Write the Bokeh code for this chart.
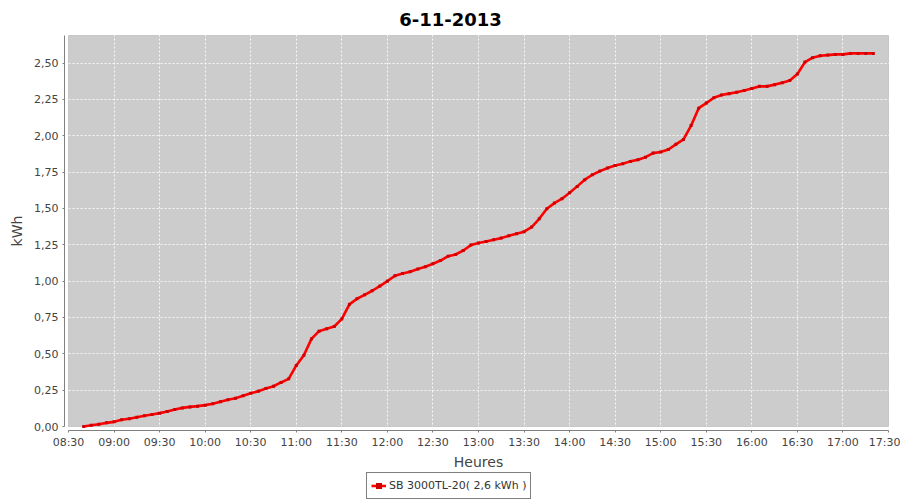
import datetime as dt
from bokeh.plotting import figure
from bokeh.models import (FixedTicker, DatetimeTickFormatter, CustomJSTickFormatter,
                          BoxAnnotation, Legend, LegendItem, Range1d, Label)
from bokeh.embed import file_html
from bokeh.resources import INLINE

# ---------------- data ----------------
chart_title = "6-11-2013"
series_name = "SB 3000TL-20( 2,6 kWh )"
x_label = "Heures"
y_label = "kWh"
chart_day = "2013-11-06"
start_time = "08:40"
step_minutes = 5
kwh = [
    0.000, 0.008, 0.016, 0.025,                      # 08:40-08:55
    0.032, 0.046, 0.053, 0.064, 0.074, 0.083,        # 09:00-09:25
    0.092, 0.103, 0.117, 0.128, 0.135, 0.140,        # 09:30-09:55
    0.147, 0.156, 0.170, 0.184, 0.195, 0.211,        # 10:00-10:25
    0.229, 0.243, 0.262, 0.277, 0.303, 0.328,        # 10:30-10:55
    0.420, 0.490, 0.603, 0.656, 0.672, 0.688,        # 11:00-11:25
    0.740, 0.840, 0.879, 0.906, 0.934, 0.966,        # 11:30-11:55
    1.000, 1.037, 1.053, 1.065, 1.083, 1.099,        # 12:00-12:25
    1.120, 1.142, 1.172, 1.184, 1.211, 1.248,        # 12:30-12:55
    1.263, 1.273, 1.285, 1.296, 1.312, 1.326,        # 13:00-13:25
    1.340, 1.372, 1.429, 1.498, 1.537, 1.567,        # 13:30-13:55
    1.608, 1.652, 1.698, 1.732, 1.757, 1.778,        # 14:00-14:25
    1.796, 1.808, 1.824, 1.835, 1.853, 1.881,        # 14:30-14:55
    1.888, 1.906, 1.941, 1.975, 2.070, 2.190,        # 15:00-15:25
    2.225, 2.262, 2.280, 2.290, 2.299, 2.312,        # 15:30-15:55
    2.326, 2.340, 2.340, 2.352, 2.365, 2.381,        # 16:00-16:25
    2.425, 2.507, 2.537, 2.551, 2.555, 2.560,        # 16:30-16:55
    2.560, 2.567, 2.567, 2.567, 2.567,               # 17:00-17:20
]
x_tick_labels = ["08:30", "09:00", "09:30", "10:00", "10:30", "11:00", "11:30",
                 "12:00", "12:30", "13:00", "13:30", "14:00", "14:30", "15:00",
                 "15:30", "16:00", "16:30", "17:00", "17:30"]
y_ticks = [0.0, 0.25, 0.5, 0.75, 1.0, 1.25, 1.5, 1.75, 2.0, 2.25, 2.5]
y_max = 2.69

# ---------------- helpers ----------------
day = dt.datetime.strptime(chart_day, "%Y-%m-%d")
EPOCH = dt.datetime(1970, 1, 1)


def at(hhmm):
    h, m = map(int, hhmm.split(":"))
    return day + dt.timedelta(hours=h, minutes=m)


def ms(d):
    return (d - EPOCH).total_seconds() * 1000.0


t0 = at(start_time)
times = [t0 + dt.timedelta(minutes=step_minutes * i) for i in range(len(kwh))]
x_ticks_ms = [ms(at(s)) for s in x_tick_labels]
x_lo, x_hi = x_ticks_ms[0], x_ticks_ms[-1]

# ---------------- layout (pixels) ----------------
W, H = 900, 500
AREA_L, AREA_R, AREA_T, AREA_B = 68, 888, 35, 426   # grey plotting area
OFF = 4                                              # axis offset from grey area
px_per_ms = (AREA_R - AREA_L) / (x_hi - x_lo)
px_per_unit = (AREA_B - AREA_T) / y_max
x_start = x_lo - AREA_L / px_per_ms
x_end = x_hi + (W - AREA_R) / px_per_ms
y_end = AREA_B / px_per_unit
y_start = -(H - AREA_B) / px_per_unit

p = figure(width=W, height=H, x_axis_type="datetime",
           output_backend="svg", toolbar_location=None,
           x_range=Range1d(x_start, x_end), y_range=Range1d(y_start, y_end),
           min_border_left=0, min_border_right=0,
           min_border_top=0, min_border_bottom=0)
p.background_fill_color = "white"
p.border_fill_color = "white"
p.outline_line_color = None

plot_area = BoxAnnotation(left=x_lo, right=x_hi, bottom=0, top=y_max,
                          fill_color="#cccccc", fill_alpha=1.0,
                          line_color="#808080", line_width=1, level="image")
p.add_layout(plot_area)

for ax in p.axis:
    ax.axis_line_color = "#808080"
    ax.major_tick_line_color = "#808080"
    ax.minor_tick_line_color = None
    ax.major_tick_out = 2
    ax.major_tick_in = 0
    ax.major_label_text_font = "DejaVu Sans"
    ax.major_label_text_font_size = "11px"
    ax.major_label_text_color = "#444444"
    ax.axis_label_text_font = "DejaVu Sans"
    ax.axis_label_text_font_size = "14px"
    ax.axis_label_text_font_style = "normal"
    ax.axis_label_text_color = "#444444"

p.xaxis.axis_label = x_label
p.yaxis.axis_label = y_label
p.xaxis.ticker = FixedTicker(ticks=x_ticks_ms)
p.xaxis.formatter = DatetimeTickFormatter(minsec="%H:%M", minutes="%H:%M",
                                          hourmin="%H:%M", hours="%H:%M")
p.yaxis.ticker = FixedTicker(ticks=y_ticks)
p.yaxis.formatter = CustomJSTickFormatter(code="return tick.toFixed(2).replace('.', ',');")
p.xaxis.bounds = (x_lo, x_hi)
p.yaxis.bounds = (0, y_max)
p.xaxis.fixed_location = -OFF / px_per_unit
p.yaxis.fixed_location = x_lo - OFF / px_per_ms
p.xaxis.major_label_standoff = 3
p.yaxis.major_label_standoff = 4
p.xaxis.axis_label_standoff = 2
p.yaxis.axis_label_standoff = 6

p.xgrid.ticker = FixedTicker(ticks=x_ticks_ms[1:-1])
p.ygrid.ticker = FixedTicker(ticks=y_ticks[1:])
for g in (p.xgrid, p.ygrid):
    g.grid_line_color = "white"
    g.grid_line_dash = "2 2"
    g.grid_line_width = 1
    g.grid_line_alpha = 0.85

r_line = p.line(times, kwh, line_color="#ff0000", line_width=2.6)
r_pts = p.scatter(times, kwh, marker="square", size=3,
                  fill_color="#cc0000", line_color=None)

title_label = Label(x=W / 2, y=H - 19, x_units="screen", y_units="screen",
                    text=chart_title, text_align="center",
                    text_baseline="alphabetic", text_font="DejaVu Sans",
                    text_font_size="18px", text_font_style="bold",
                    text_color="black")
p.add_layout(title_label)

legend = Legend(items=[LegendItem(label=series_name, renderers=[r_line, r_pts])],
                location=(366, 1), orientation="horizontal",
                border_line_color="black", border_line_width=1,
                background_fill_color="white", background_fill_alpha=1.0,
                padding=4, spacing=0, margin=0,
                glyph_width=15, glyph_height=17, label_height=17,
                label_standoff=3, label_text_font="DejaVu Sans",
                label_text_font_size="11px", label_text_color="#333333")
p.add_layout(legend)

open("out.html", "w").write(file_html(p, INLINE))
